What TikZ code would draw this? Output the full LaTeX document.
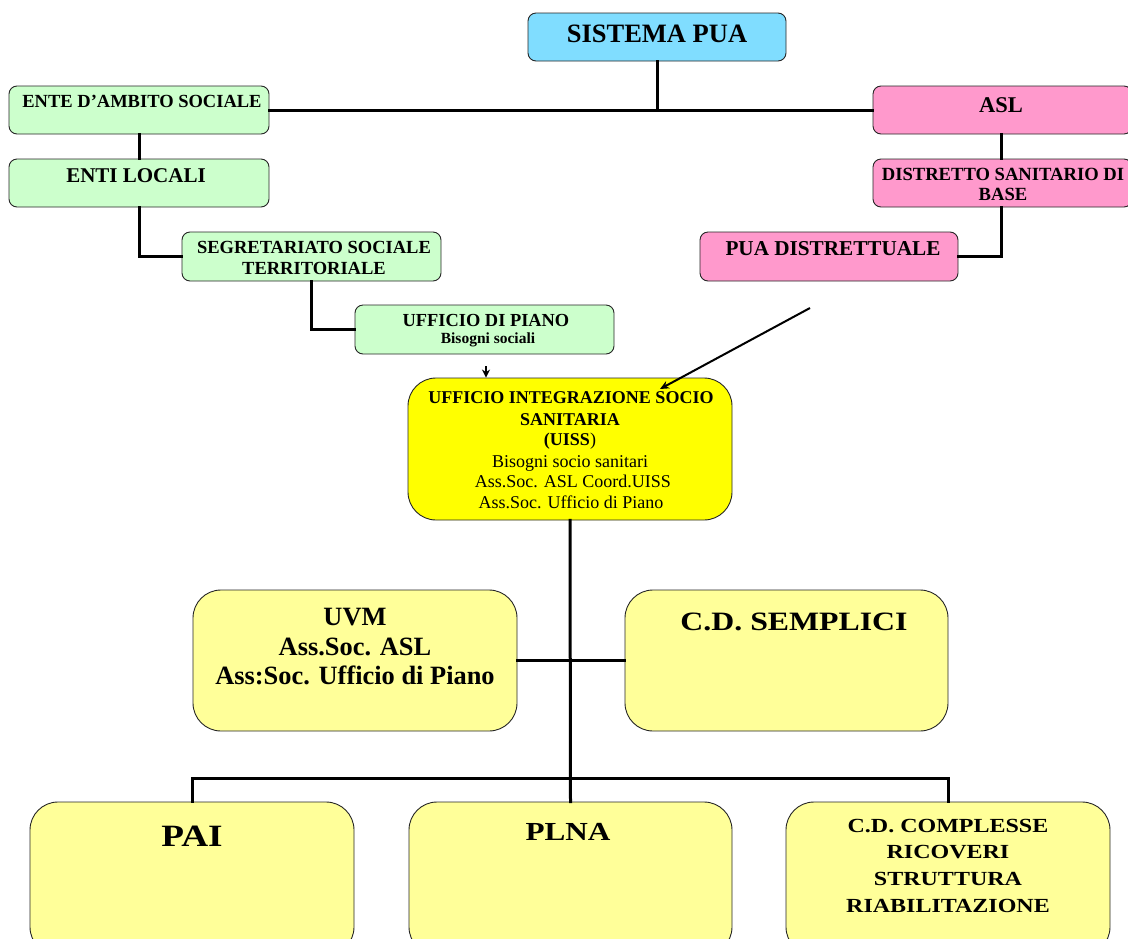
\documentclass[tikz,border=0pt]{standalone}
\usepackage{fontspec}
\setmainfont{Liberation Serif}
\newfontfamily\widefont[FakeStretch=1.2]{Liberation Serif}
\usetikzlibrary{arrows.meta,fit}
\definecolor{cyanbox}{HTML}{80DDFF}
\definecolor{greenbox}{HTML}{CCFFCC}
\definecolor{pinkbox}{HTML}{FF99CC}
\definecolor{yellowbox}{HTML}{FFFF00}
\definecolor{paleyellow}{HTML}{FFFF99}
\begin{document}
\begin{tikzpicture}[x=1pt,y=-1pt,
  box/.style={draw=black!85, line width=0.9pt, inner sep=0pt, rounded corners=8pt},
  bigbox/.style={box, rounded corners=28pt},
  conn/.style={line width=3pt, line cap=rect},
  arr/.style={line width=2pt, -{Stealth[length=9pt,width=8pt]}},
  ln/.style={anchor=base, inner sep=0pt},
  bs/.style={ln, font=\bfseries\fontsize{#1}{#1}\selectfont},
  rs/.style={ln, font=\fontsize{#1}{#1}\selectfont},
  ws/.style={ln, font=\widefont\bfseries\fontsize{#1}{#1}\selectfont}]
\useasboundingbox (0,0) rectangle (1128,938);
\clip (0,0) rectangle (1128,938);

% boxes
\node[box, fill=cyanbox, fit={(528,13) (786,61)}] (sis) {};
\node[box, fill=greenbox, fit={(9,86) (269,134)}] (ente) {};
\node[box, fill=greenbox, fit={(9,159) (269,207)}] (enti) {};
\node[box, fill=greenbox, fit={(182,232) (441,281)}] (seg) {};
\node[box, fill=greenbox, fit={(355,305) (614,354)}] (udp) {};
\node[box, fill=pinkbox, fit={(873,86) (1132,134)}] (asl) {};
\node[box, fill=pinkbox, fit={(873,159) (1132,207)}] (dis) {};
\node[box, fill=pinkbox, fit={(700,232) (958,281)}] (pua) {};
\node[bigbox, fill=yellowbox, fit={(408,378) (732,520)}] (uiss) {};
\node[bigbox, fill=paleyellow, fit={(193,590) (517,731)}] (uvm) {};
\node[bigbox, fill=paleyellow, fit={(625,590) (948,731)}] (cds) {};
\node[bigbox, fill=paleyellow, fit={(30,802) (354,955)}] (pai) {};
\node[bigbox, fill=paleyellow, fit={(409,802) (732,955)}] (plna) {};
\node[bigbox, fill=paleyellow, fit={(786,802) (1110,955)}] (cdc) {};

% texts
\node[bs=26.5] (t1) at (657,42) {SISTEMA PUA};
\node[bs=18.5] (t2) at (142,107) {ENTE D’AMBITO SOCIALE};
\node[bs=21] (t3) at (136,182) {ENTI LOCALI};
\node[bs=18.5] (t4) at (314,253) {SEGRETARIATO SOCIALE};
\node[bs=18.5] (t5) at (314,274) {TERRITORIALE};
\node[bs=18.4] (t6) at (486,326) {UFFICIO DI PIANO};
\node[bs=15.5] (t7) at (488,343) {Bisogni sociali};
\node[bs=22.5] (t8) at (1001,112) {ASL};
\node[bs=18.6] (t9) at (1003,180) {DISTRETTO SANITARIO DI};
\node[bs=18.6] (t10) at (1003,200) {BASE};
\node[bs=21.2] (t11) at (833,255) {PUA DISTRETTUALE};
\node[bs=18] (t12) at (571,403) {UFFICIO INTEGRAZIONE SOCIO};
\node[bs=18] (t13) at (570,425) {SANITARIA};
\node[bs=18] (t14) at (570,445) {(UISS\textmd{)}};
\node[rs=18] (t15) at (570,467) {Bisogni socio sanitari};
\node[rs=18] (t16) at (573,487) {Ass.Soc. ASL Coord.UISS};
\node[rs=18] (t17) at (571,508) {Ass.Soc. Ufficio di Piano};
\node[bs=26.4] (t18) at (355,625) {UVM};
\node[bs=26.4] (t19) at (355,655) {Ass.Soc. ASL};
\node[bs=26.4] (t20) at (355,684) {Ass:Soc. Ufficio di Piano};
\node[ws=26.5] (t21) at (794,630) {C.D. SEMPLICI};
\node[ws=31] (t22) at (192,846) {PAI};
\node[ws=26] (t23) at (568,840) {PLNA};
\node[ws=20] (t24) at (948,832) {C.D. COMPLESSE};
\node[ws=20] (t25) at (948,858) {RICOVERI};
\node[ws=20] (t26) at (948,885) {STRUTTURA};
\node[ws=20] (t27) at (948,912) {RIABILITAZIONE};

% connectors
\draw[conn] (ente.east) -- (asl.west);
\draw[conn] (sis.south) -- (sis.south |- ente.east);
\draw[conn] (ente.south) -- (enti.north);
\draw[conn] (enti.south) |- (seg.west);
\draw[conn] (seg.south) |- (udp.west);
\draw[conn] (asl.south -| 1001,0) -- (dis.north -| 1001,0);
\draw[conn] (dis.south -| 1001,0) |- (pua.east);
\draw[conn] (uiss.south) -- (plna.north);
\draw[conn] (uvm.east) -- (cds.west);
\coordinate (bus) at (570,778);
\draw[conn] (pai.north) |- (bus) -| (cdc.north);

\coordinate (a1) at (486,366);
\draw[line width=1.5pt, -{Stealth[length=8pt,width=8pt]}] (a1) -- (a1 |- uiss.north);
\coordinate (a2) at (810,308);
\coordinate (a2e) at (660,389);
\draw[arr] (a2) -- (a2e);
\end{tikzpicture}
\end{document}
